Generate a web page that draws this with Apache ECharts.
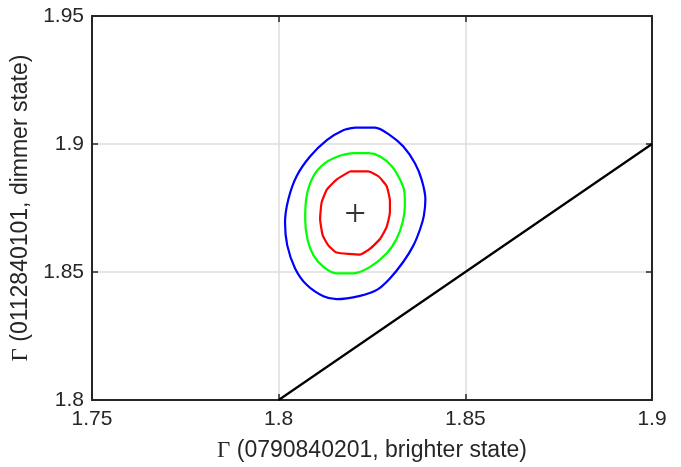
<!DOCTYPE html>
<html>
<head>
<meta charset="utf-8">
<script src="https://cdn.jsdelivr.net/npm/echarts@6/dist/echarts.min.js"></script>
<style>
html,body{margin:0;padding:0;background:#fff;}
#c{width:681px;height:467px;}
</style>
</head>
<body>
<div id="c"></div>
<script>
// Axis ticks
const xTicks = [1.75, 1.8, 1.85, 1.9];
const yTicks = [1.8, 1.85, 1.9, 1.95];

// Best-fit point
const bestFit = [[1.8205, 1.873]];

// Equality line
const equalityLine = [[1.8, 1.8], [1.9, 1.9]];

// Outer contour (blue)
const blueContour = [
  [1.8205,1.9064],[1.8258,1.9064],[1.8298,1.9035],[1.8334,1.8990],[1.8365,1.8925],
  [1.8383,1.8861],[1.8393,1.8784],[1.8389,1.8720],[1.8379,1.8668],[1.8361,1.8604],
  [1.8334,1.8540],[1.8298,1.8475],[1.8263,1.8430],[1.8218,1.8407],[1.8155,1.8394],
  [1.8120,1.8405],[1.8075,1.8450],[1.8044,1.8514],[1.8023,1.8604],[1.8017,1.8694],
  [1.8026,1.8784],[1.8048,1.8874],[1.8084,1.8951],[1.8129,1.9015],[1.8173,1.9054],
  [1.8205,1.9064]
];

// Middle contour (green)
const greenContour = [
  [1.8200,1.8964],[1.8240,1.8964],[1.8272,1.8951],[1.8303,1.8913],[1.8325,1.8861],
  [1.8337,1.8810],[1.8338,1.8758],[1.8332,1.8694],[1.8316,1.8630],[1.8289,1.8572],
  [1.8245,1.8520],[1.8200,1.8495],[1.8155,1.8495],[1.8120,1.8520],[1.8093,1.8566],
  [1.8077,1.8630],[1.8071,1.8707],[1.8075,1.8797],[1.8093,1.8874],[1.8124,1.8925],
  [1.8164,1.8954],[1.8200,1.8964]
];

// Inner contour (red)
const redContour = [
  [1.8191,1.8893],[1.8240,1.8893],[1.8267,1.8874],[1.8289,1.8836],[1.8298,1.8778],
  [1.8298,1.8733],[1.8289,1.8675],[1.8272,1.8630],[1.8245,1.8591],[1.8218,1.8568],
  [1.8155,1.8576],[1.8133,1.8604],[1.8118,1.8643],[1.8111,1.8707],[1.8115,1.8771],
  [1.8129,1.8822],[1.8155,1.8861],[1.8191,1.8893]
];

const fontFam = '"Liberation Sans", Arial, Helvetica, sans-serif';
const fmt = v => String(parseFloat(Number(v).toFixed(2)));
const axisCol = '#262626';

const chart = echarts.init(document.getElementById('c'), null, {renderer: 'canvas'});

const titleRich = {
  g: {fontFamily: '"Liberation Serif", "DejaVu Serif", serif', fontSize: 23, color: axisCol},
  t: {fontFamily: fontFam, fontSize: 23, color: axisCol}
};

chart.setOption({
  animation: false,
  backgroundColor: '#ffffff',
  grid: {left: 92, right: 29, top: 16, bottom: 62, containLabel: false},
  xAxis: [{
    type: 'value', min: xTicks[0], max: xTicks[xTicks.length - 1], interval: 0.05,
    position: 'bottom',
    name: '{g|Γ}{t| (0790840201, brighter state)}',
    nameLocation: 'middle', nameGap: 39,
    nameTextStyle: {rich: titleRich},
    axisLine: {show: true, onZero: false, lineStyle: {color: axisCol, width: 2}},
    axisTick: {show: true, inside: true, length: 6, lineStyle: {color: axisCol, width: 1.5}},
    axisLabel: {formatter: fmt, fontFamily: fontFam, fontSize: 21, color: axisCol, margin: 9},
    splitLine: {show: true, lineStyle: {color: '#dcdcdc', width: 1.5}}
  }, {
    type: 'value', min: xTicks[0], max: xTicks[xTicks.length - 1], interval: 0.05,
    position: 'top',
    axisLine: {show: true, onZero: false, lineStyle: {color: axisCol, width: 2}},
    axisTick: {show: true, inside: true, length: 6, lineStyle: {color: axisCol, width: 1.5}},
    axisLabel: {show: false},
    splitLine: {show: false}
  }],
  yAxis: [{
    type: 'value', min: yTicks[0], max: yTicks[yTicks.length - 1], interval: 0.05,
    position: 'left',
    name: '{g|Γ}{t| (0112840101, dimmer state)}',
    nameLocation: 'middle', nameGap: 50,
    nameTextStyle: {rich: titleRich},
    axisLine: {show: true, onZero: false, lineStyle: {color: axisCol, width: 2}},
    axisTick: {show: true, inside: true, length: 6, lineStyle: {color: axisCol, width: 1.5}},
    axisLabel: {formatter: fmt, fontFamily: fontFam, fontSize: 21, color: axisCol, margin: 8},
    splitLine: {show: true, lineStyle: {color: '#dcdcdc', width: 1.5}}
  }, {
    type: 'value', min: yTicks[0], max: yTicks[yTicks.length - 1], interval: 0.05,
    position: 'right',
    axisLine: {show: true, onZero: false, lineStyle: {color: axisCol, width: 2}},
    axisTick: {show: true, inside: true, length: 6, lineStyle: {color: axisCol, width: 1.5}},
    axisLabel: {show: false},
    splitLine: {show: false}
  }],
  series: [
    {type: 'line', data: equalityLine, showSymbol: false, symbol: 'none',
     lineStyle: {color: '#000000', width: 2.2}, z: 3},
    {type: 'line', data: blueContour, showSymbol: false, symbol: 'none', smooth: 0.3,
     lineStyle: {color: '#0000ff', width: 2.2}, z: 4},
    {type: 'line', data: greenContour, showSymbol: false, symbol: 'none', smooth: 0.3,
     lineStyle: {color: '#00ff00', width: 2.2}, z: 4},
    {type: 'line', data: redContour, showSymbol: false, symbol: 'none', smooth: 0.15,
     lineStyle: {color: '#ff0000', width: 2.2}, z: 4},
    {type: 'scatter', data: bestFit, symbol: 'path://M0,-10L0,10M-10,0L10,0', symbolSize: 18,
     itemStyle: {color: 'none', borderColor: '#000000', borderWidth: 2}, z: 5}
  ]
});
</script>
</body>
</html>
